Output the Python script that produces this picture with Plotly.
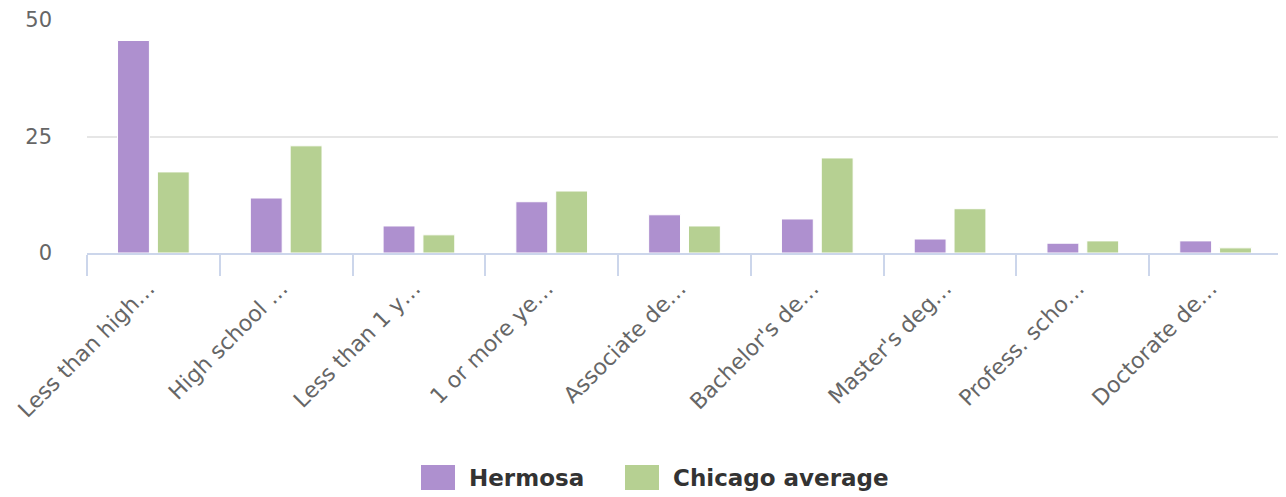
import plotly.graph_objects as go

categories = ["Less than high…", "High school …", "Less than 1 y…", "1 or more ye…",
              "Associate de…", "Bachelor's de…", "Master's deg…", "Profess. scho…", "Doctorate de…"]
hermosa = [45.6, 11.8, 5.8, 11.0, 8.2, 7.3, 3.0, 2.1, 2.6]
chicago = [17.4, 23.0, 3.9, 13.3, 5.8, 20.4, 9.5, 2.6, 1.1]
y_ticks = [0, 25, 50]
series_names = ["Hermosa", "Chicago average"]
series_colors = ["#ae90cf", "#b6d092"]

# page has an 8px body margin; work in screenshot pixels and convert
OFF = 8
FW, FH = 1286 - OFF, 497 - OFF
L, R, T, B = 87, 1282, 20, 253      # plot area in screenshot pixels
W, H = R - L, B - T
def px(x):
    return (x - L) / W
def py(y):
    return (B - y) / H

fig = go.Figure()
for name, vals, col in zip(series_names, [hermosa, chicago], series_colors):
    fig.add_trace(go.Bar(name=name, x=categories, y=vals, showlegend=False,
                         marker=dict(color=col, line=dict(color="#ffffff", width=1))))

# custom legend with large swatches (Highcharts-like)
legend_items = [(421, 455, 467), (625, 659, 671)]
for (sx0, sx1, tx), name, col in zip(legend_items, series_names, series_colors):
    fig.add_shape(type="rect", xref="paper", yref="paper",
                  x0=px(sx0), x1=px(sx1), y0=py(490), y1=py(465),
                  fillcolor=col, line=dict(width=0))
    fig.add_annotation(xref="paper", yref="paper", x=px(tx), y=py(478),
                       xanchor="left", yanchor="middle", showarrow=False, text="<b>%s</b>" % name,
                       font=dict(family="DejaVu Sans", size=23, color="#333333"))

fig.update_layout(
    width=FW, height=FH,
    margin=dict(l=L - OFF, r=1286 - R, t=T - OFF, b=497 - B),
    plot_bgcolor="white", paper_bgcolor="white",
    barmode="group", bargap=0.4, bargroupgap=0.2,
    font=dict(family="DejaVu Sans", color="#666666"),
    showlegend=False,
)
fig.update_xaxes(showline=True, linecolor="#ccd6eb", linewidth=1.5, showgrid=False,
                 ticks="outside", tickson="boundaries", ticklen=21, tickcolor="#ccd6eb", tickwidth=1.5,
                 tickangle=-45, tickfont=dict(size=22, color="#666666", family="DejaVu Sans"),
                 ticklabelstandoff=12, ticklabelshift=-5, automargin=False)
fig.update_yaxes(range=[0, 50], tickvals=y_ticks, showgrid=True, gridcolor="#e6e6e6", gridwidth=1.5,
                 zeroline=False, tickfont=dict(size=21, color="#666666", family="DejaVu Sans"),
                 ticklabelstandoff=34, automargin=False)

fig.write_html("out.html")
